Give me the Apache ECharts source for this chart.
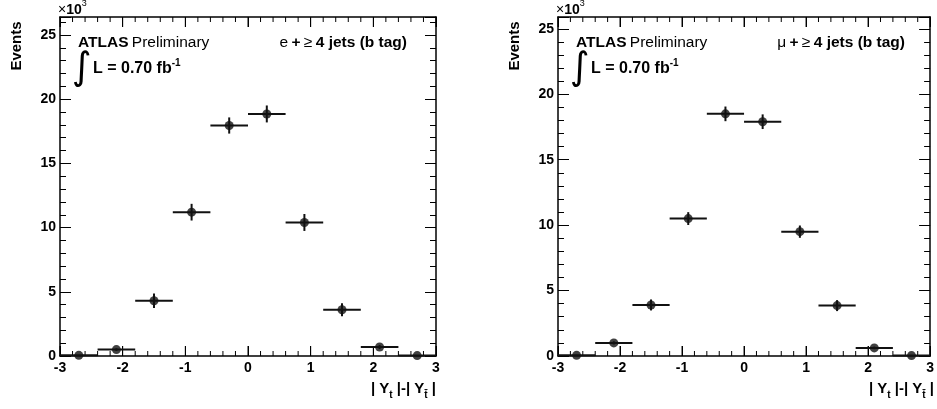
<!DOCTYPE html>
<html><head><meta charset="utf-8">
<script src="https://cdn.jsdelivr.net/npm/echarts@6/dist/echarts.min.js"></script>
<style>html,body{margin:0;padding:0;background:#fff}#c{width:937px;height:409px}</style>
</head><body><div id="c"></div>
<script>
// ---- data ----
const binCenters = [-2.7, -2.1, -1.5, -0.9, -0.3, 0.3, 0.9, 1.5, 2.1, 2.7];
const binHalfWidth = 0.3;
const eEvents  = [0.05, 0.5, 4.3, 11.2, 17.95, 18.85, 10.4, 3.6, 0.7, 0.03];
const eErrors  = [0.03, 0.1, 0.56, 0.65, 0.63, 0.66, 0.66, 0.5, 0.15, 0.03];
const muEvents = [0.05, 1.0, 3.9, 10.5, 18.5, 17.9, 9.5, 3.85, 0.62, 0.03];
const muErrors = [0.03, 0.12, 0.42, 0.49, 0.56, 0.56, 0.47, 0.42, 0.1, 0.03];
const xMin = -3, xMax = 3;
const xMajorTicks = [-3, -2, -1, 0, 1, 2, 3];
const xMinorTicks = [-2.8, -2.6, -2.4, -2.2, -1.8, -1.6, -1.4, -1.2, -0.8, -0.6, -0.4, -0.2,
                     0.2, 0.4, 0.6, 0.8, 1.2, 1.4, 1.6, 1.8, 2.2, 2.4, 2.6, 2.8];
const yMaxE = 26.4, yMaxMu = 25.9;
const channels = ['e', 'μ'];

// ---- chart ----
const FONT = '"Liberation Sans", Arial, Helvetica, sans-serif';
const TOP = 17, H = 339, W = 376;
const panels = [
  {left: 60,  events: eEvents,  errors: eErrors,  yMax: yMaxE,  ch: channels[0]},
  {left: 558, events: muEvents, errors: muErrors, yMax: yMaxMu, ch: channels[1]}
];
const INK = '#111';
const TICK = {color: '#000', width: 1};

const xm = (pos) => ({type: 'value', min: xMin, max: xMax, interval: 1, position: pos, splitLine: {show: false},
  axisLine: {show: true, onZero: false, lineStyle: {color: '#000', width: 1.5}},
  axisTick: {show: true, inside: true, length: 10, lineStyle: TICK},
  axisLabel: {show: pos === 'bottom', margin: 5, color: '#000', fontFamily: FONT, fontWeight: 'bold', fontSize: 14}});
const ym = (pos, yMax) => ({type: 'value', min: 0, max: yMax, interval: 5, position: pos, splitLine: {show: false},
  axisLine: {show: true, onZero: false, lineStyle: {color: '#000', width: 1.5}},
  axisTick: {show: true, inside: true, length: 11, lineStyle: TICK},
  axisLabel: {show: pos === 'left', margin: 4, color: '#000', fontFamily: FONT, fontWeight: 'bold', fontSize: 14,
    formatter: v => (Math.abs(v % 5) < 1e-9 ? String(v) : '')}});
const yn = (pos, yMax) => ({type: 'value', min: 0, max: yMax, interval: 1, position: pos, splitLine: {show: false},
  axisLine: {show: false, onZero: false}, axisLabel: {show: false},
  axisTick: {show: true, inside: true, length: 6, lineStyle: TICK}});

const grids = [], xAxes = [], yAxes = [], series = [], graphics = [];
panels.forEach((p, i) => {
  grids.push({left: p.left, top: TOP, width: W, height: H, show: false});
  const xDataIdx = xAxes.length, yDataIdx = yAxes.length;
  xAxes.push({gridIndex: i, type: 'value', min: xMin, max: xMax, show: false, position: 'bottom'});
  yAxes.push({gridIndex: i, type: 'value', min: 0, max: p.yMax, show: false, position: 'left'});
  [xm('bottom'), xm('top')].forEach(a => xAxes.push(Object.assign({gridIndex: i}, a)));
  [ym('left', p.yMax), yn('left', p.yMax), ym('right', p.yMax), yn('right', p.yMax)]
    .forEach(a => yAxes.push(Object.assign({gridIndex: i}, a)));

  // x-axis tick marks on bottom and top frame, placed through the x scale
  [[xMajorTicks, 10], [xMinorTicks, 5]].forEach(([ticks, len]) => {
    series.push({type: 'custom', xAxisIndex: xDataIdx, yAxisIndex: yDataIdx, silent: true, z: 1,
      data: ticks.map(v => [v, 0]), encode: {x: 0, y: 1},
      renderItem: (params, api) => {
        const x = api.value(0);
        const b = api.coord([x, 0]), t = api.coord([x, p.yMax]);
        return {type: 'group', children: [
          {type: 'line', shape: {x1: b[0], y1: b[1], x2: b[0], y2: b[1] - len}, style: {stroke: '#000', lineWidth: 1}},
          {type: 'line', shape: {x1: t[0], y1: t[1], x2: t[0], y2: t[1] + len}, style: {stroke: '#000', lineWidth: 1}}
        ]};
      }});
  });

  const data = binCenters.map((c, k) => [c, p.events[k], binHalfWidth, p.errors[k]]);
  series.push({type: 'custom', xAxisIndex: xDataIdx, yAxisIndex: yDataIdx, data: data,
    encode: {x: 0, y: 1}, z: 2, silent: true,
    renderItem: (params, api) => {
      const x = api.value(0), y = api.value(1), hw = api.value(2), e = api.value(3);
      const a = api.coord([x - hw, y]), b = api.coord([x + hw, y]);
      const c = api.coord([x, Math.max(0, y - e)]), d = api.coord([x, y + e]);
      return {type: 'group', children: [
        {type: 'line', shape: {x1: a[0], y1: a[1], x2: b[0], y2: b[1]}, style: {stroke: INK, lineWidth: 2}},
        {type: 'line', shape: {x1: c[0], y1: c[1], x2: d[0], y2: d[1]}, style: {stroke: INK, lineWidth: 2}}
      ]};
    }});
  series.push({type: 'scatter', xAxisIndex: xDataIdx, yAxisIndex: yDataIdx, z: 3, silent: true,
    data: binCenters.map((c, k) => [c, p.events[k]]),
    symbol: 'circle', symbolSize: 9, itemStyle: {color: INK}});

  const ox = p.left - 60;
  graphics.push({type: 'text', x: ox + 58, y: 17, style: {
    text: '{x|×}{n|10}{s|3}', verticalAlign: 'bottom', align: 'left',
    rich: {x: {fontFamily: FONT, fontSize: 14, lineHeight: 18, verticalAlign: 'bottom', fill: '#000'},
           n: {fontFamily: FONT, fontSize: 14, fontWeight: 'bold', lineHeight: 18, verticalAlign: 'bottom', fill: '#000'},
           s: {fontFamily: FONT, fontSize: 9, lineHeight: 9, verticalAlign: 'top', fill: '#000'}}}});
  graphics.push({type: 'text', x: ox + 17, y: 46, rotation: Math.PI / 2, style: {
    text: 'Events', align: 'center', verticalAlign: 'middle',
    fontFamily: FONT, fontSize: 15, fontWeight: 'bold', fill: '#000'}});
  graphics.push({type: 'text', x: ox + 78, y: 43, style: {
    text: '{a|ATLAS} {p|Preliminary}', align: 'left', verticalAlign: 'middle',
    rich: {a: {fontFamily: FONT, fontSize: 15.5, fontWeight: 'bold', fill: '#000'},
           p: {fontFamily: FONT, fontSize: 15.5, fill: '#000'}}}});
  graphics.push({type: 'text', x: ox + 407, y: 43, style: {
    text: '{r|' + p.ch + '} {b|+} {r|≥} {b|4 jets (b tag)}', align: 'right', verticalAlign: 'middle',
    rich: {r: {fontFamily: FONT, fontSize: 15.5, fill: '#000'},
           b: {fontFamily: FONT, fontSize: 15.5, fontWeight: 'bold', fill: '#000'}}}});
  graphics.push({type: 'text', x: ox + 82, y: 69, style: {
    text: '∫', align: 'center', verticalAlign: 'middle',
    fontFamily: '"DejaVu Sans", sans-serif', fontSize: 38, fill: '#000'}});
  graphics.push({type: 'text', x: ox + 93, y: 69, style: {
    text: '{b|L = 0.70 fb}{s|-1}', align: 'left', verticalAlign: 'middle',
    rich: {b: {fontFamily: FONT, fontSize: 16, fontWeight: 'bold', lineHeight: 22, verticalAlign: 'middle', fill: '#000'},
           s: {fontFamily: FONT, fontSize: 10, fontWeight: 'bold', lineHeight: 10, verticalAlign: 'top', fill: '#000'}}}});
  graphics.push({type: 'text', x: ox + 436, y: 389, style: {
    text: '{b|| Y}{s|t}{b| |-| Y}{s|t̄}{b| |}', align: 'right', verticalAlign: 'middle',
    rich: {b: {fontFamily: FONT, fontSize: 15, fontWeight: 'bold', lineHeight: 22, verticalAlign: 'middle', fill: '#000'},
           s: {fontFamily: FONT, fontSize: 10, fontWeight: 'bold', lineHeight: 10, verticalAlign: 'bottom', fill: '#000'}}}});
});

const chart = echarts.init(document.getElementById('c'));
chart.setOption({
  animation: false,
  backgroundColor: '#fff',
  grid: grids, xAxis: xAxes, yAxis: yAxes, series: series, graphic: graphics
});
</script>
</body></html>
